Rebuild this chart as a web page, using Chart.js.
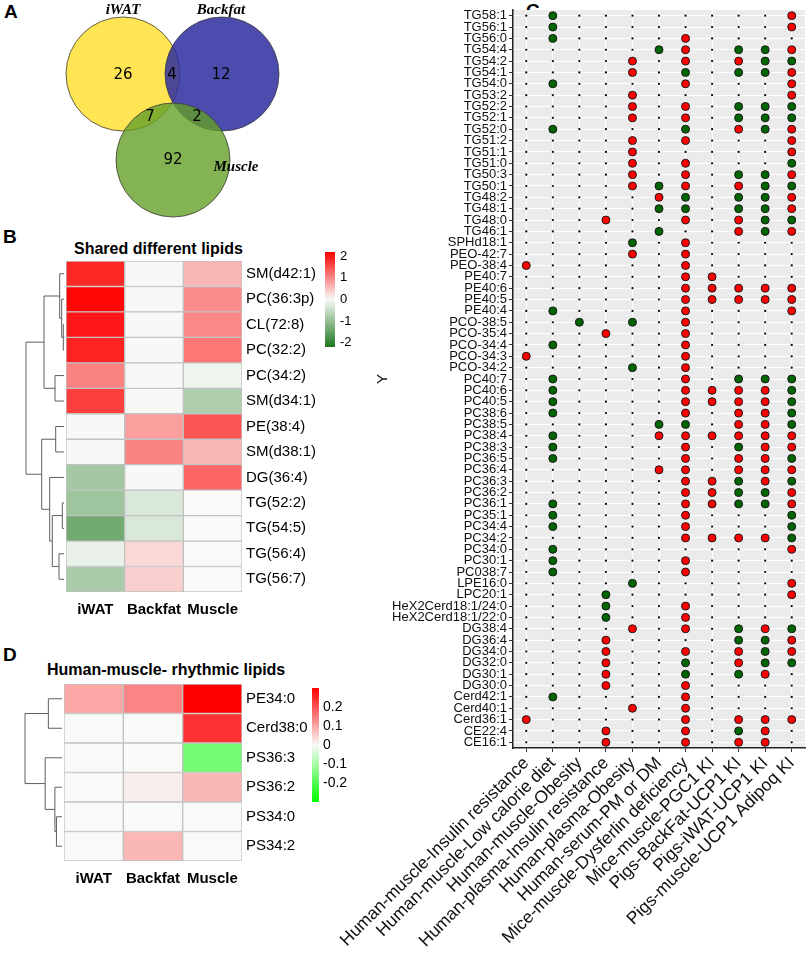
<!DOCTYPE html>
<html>
<head>
<meta charset="utf-8">
<script src="https://cdn.jsdelivr.net/npm/chart.js@4.4.1/dist/chart.umd.min.js"></script>
<style>
body { margin: 0; width: 809px; height: 953px; overflow: hidden; background: #fff; position: relative;
       font-family: "Liberation Sans", Arial, sans-serif; }
canvas { position: absolute; }
.lab { position: absolute; font-weight: bold; color: #000; white-space: nowrap; }
</style>
</head>
<body>
<div class="lab" style="left:4px;top:1px;font-size:19px">A</div>
<div class="lab" style="left:3px;top:226px;font-size:19px">B</div>
<div class="lab" style="left:526px;top:0px;font-size:19px">C</div>
<div class="lab" style="left:3px;top:644px;font-size:19px">D</div>
<div class="lab" style="left:74px;top:240px;font-size:16px">Shared different lipids</div>
<div class="lab" style="left:47px;top:661px;font-size:16px">Human-muscle- rhythmic lipids</div>

<canvas id="venn" width="300" height="235" style="left:0;top:0"></canvas>
<canvas id="heatB" width="360" height="390" style="left:0;top:240px"></canvas>
<canvas id="heatD" width="360" height="240" style="left:0;top:655px"></canvas>
<canvas id="dots" width="509" height="953" style="left:300px;top:0"></canvas>

<script>
Chart.defaults.font.family = '"Liberation Sans", Arial, sans-serif';

// ---------- A: Venn ----------
const vennSets = ['iWAT', 'Backfat', 'Muscle'];
const vennRegions = ['iWAT', 'iWAT&Backfat', 'Backfat', 'iWAT&Muscle', 'Backfat&Muscle', 'Muscle'];
const vennCounts = [26, 4, 12, 7, 2, 92];

// ---------- B: shared different lipids ----------
const heatCols = ['iWAT', 'Backfat', 'Muscle'];
const bRows = ['SM(d42:1)', 'PC(36:3p)', 'CL(72:8)', 'PC(32:2)', 'PC(34:2)', 'SM(d34:1)', 'PE(38:4)',
               'SM(d38:1)', 'DG(36:4)', 'TG(52:2)', 'TG(54:5)', 'TG(56:4)', 'TG(56:7)'];
const bIwat    = [1.85, 2.15, 2.0, 1.9, 1.05, 1.65, 0.02, 0.02, -0.85, -0.9, -1.35, -0.15, -0.8];
const bBackfat = [0.02, 0.02, 0.02, 0.02, 0.02, 0.02, 0.8, 1.05, 0.02, -0.3, -0.3, 0.3, 0.38];
const bMuscle  = [0.6, 0.95, 1.0, 1.15, -0.1, -0.75, 1.45, 0.6, 1.3, 0.0, 0.0, 0.0, 0.0];
const bMerge = [[-3, -4], [-2, 1], [-1, 2], [-5, -6], [3, 4], [-7, -8], [-10, -11], [-12, -13], [7, 8], [-9, 9], [6, 10], [5, 11]];
const bHeight = [0.7, 2.3, 4.3, 9, 20, 8.3, 1.7, 5, 11.7, 14.3, 22.3, 38];
const bTicks = [2, 1, 0, -1, -2];

// ---------- D: human-muscle rhythmic lipids ----------
const dRows = ['PE34:0', 'Cerd38:0', 'PS36:3', 'PS36:2', 'PS34:0', 'PS34:2'];
const dIwat    = [0.1, 0, 0, 0, 0, 0];
const dBackfat = [0.14, 0, 0, 0.015, 0, 0.08];
const dMuscle  = [0.3, 0.24, -0.16, 0.08, 0, 0];
const dMerge = [[-1, -2], [-5, -6], [-4, 2], [-3, 3], [1, 4]];
const dHeight = [14, 5.7, 7.3, 17.3, 38];
const dTicks = [0.2, 0.1, 0, -0.1, -0.2];

// ---------- C: lipid hits per study (R up, G down, . none) ----------
const cStudies = ['Human-muscle-Insulin resistance', 'Human-muscle-Low calorie diet', 'Human-muscle-Obesity',
  'Human-plasma-Insulin resistance', 'Human-plasma-Obesity', 'Human-serum-PM or DM',
  'Mice-muscle-Dysferlin deficiency', 'Mice-muscle-PGC1 KI', 'Pigs-BackFat-UCP1 KI',
  'Pigs-iWAT-UCP1 KI', 'Pigs-muscle-UCP1 Adipoq KI'];
const cLipids = ['TG58:1', 'TG56:1', 'TG56:0', 'TG54:4', 'TG54:2', 'TG54:1', 'TG54:0', 'TG53:2', 'TG52:2', 'TG52:1',
  'TG52:0', 'TG51:2', 'TG51:1', 'TG51:0', 'TG50:3', 'TG50:1', 'TG48:2', 'TG48:1', 'TG48:0', 'TG46:1',
  'SPHd18:1', 'PEO-42:7', 'PEO-38:4', 'PE40:7', 'PE40:6', 'PE40:5', 'PE40:4', 'PCO-38:5', 'PCO-35:4', 'PCO-34:4',
  'PCO-34:3', 'PCO-34:2', 'PC40:7', 'PC40:6', 'PC40:5', 'PC38:6', 'PC38:5', 'PC38:4', 'PC38:3', 'PC36:5',
  'PC36:4', 'PC36:3', 'PC36:2', 'PC36:1', 'PC35:1', 'PC34:4', 'PC34:2', 'PC34:0', 'PC30:1', 'PC038:7',
  'LPE16:0', 'LPC20:1', 'HeX2Cerd18:1/24:0', 'HeX2Cerd18:1/22:0', 'DG38:4', 'DG36:4', 'DG34:0', 'DG32:0', 'DG30:1', 'DG30:0',
  'Cerd42:1', 'Cerd40:1', 'Cerd36:1', 'CE22:4', 'CE16:1'];
const cCalls = [
  '.G........R', '.G........R', '.G....R....', '.....GR.GGR', '....R.R.RGG', '....R.G.GGR', '.G....R...R', '....R.....R',
  '....R.R.GGG', '....R.R.GGG', '.G....G.RGR', '....R.R...R', '....R.....R', '....R.R...G', '....R.R.GGR', '....RGR.RGG',
  '.....RG.GGR', '.....GG.GGR', '...R..R.RGG', '.....G..RGR', '....G.R....', '....R.R....', 'R.....R....', '......RR...',
  '......RRRRR', '......RRRRR', '.G....R...R', '..G.G.R....', '...R..R....', '.G....R....', 'R.....R....', '....G.R....',
  '.G....R.GGG', '.G....RRRRG', '.G....RRRRG', '.G....R.RRG', '.....GG.RRG', '.G...RRRRRR', '.G....R.GRR', '.G....R.RRG',
  '.....RR.RRR', '......RRGRG', '......RRGGR', '.G....RRGGR', '.G....R...G', '.G....R...G', '......RRRRG', '.G........R',
  '.G....R....', '.G....R....', '....G.....R', '...G......R', '...G..R....', '...G..R....', '....R.R.GRG', '...R....GGR',
  '...R..R.RGR', '...R..G.RGG', '...R..G.GR.', '...R..R....', '.G....R....', '....R.R....', 'R.....R.RRR', '...R..R.GR.',
  '...R..R.RR.'];

// ---------- helpers ----------
const mix = (a, b, t) => {
  t = Math.max(0, Math.min(1, t));
  return 'rgb(' + a.map((c, i) => Math.round(c + (b[i] - c) * t)).join(',') + ')';
};
const MID = [248, 250, 248];
const colorB = v => v >= 0 ? mix(MID, [255, 0, 0], v / 2.2) : mix(MID, [30, 120, 30], -v / 2.2);
const colorD = v => v >= 0 ? mix(MID, [255, 0, 0], v / 0.3) : mix(MID, [0, 255, 0], -v / 0.3);

function dendrogram(merges, heights, width) {
  return {
    id: 'dendro',
    afterDraw(chart) {
      const { ctx, chartArea } = chart;
      const ys = chart.scales.y;
      const x0 = chartArea.left - 2;
      const k = width / Math.max(...heights);
      const nodes = [];
      const get = id => id < 0 ? { y: ys.getPixelForValue(-id - 1), h: 0 } : nodes[id - 1];
      ctx.save();
      ctx.strokeStyle = '#5e5e5e';
      ctx.lineWidth = 1;
      merges.forEach(([a, b], i) => {
        const A = get(a), B = get(b), x = x0 - heights[i] * k;
        ctx.beginPath();
        ctx.moveTo(x0 - A.h * k, A.y);
        ctx.lineTo(x, A.y);
        ctx.lineTo(x, B.y);
        ctx.lineTo(x0 - B.h * k, B.y);
        ctx.stroke();
        nodes.push({ y: (A.y + B.y) / 2, h: heights[i] });
      });
      ctx.restore();
    }
  };
}

function colorbar(o) {
  return {
    id: 'colorbar',
    afterDraw(chart) {
      const ctx = chart.ctx;
      const g = ctx.createLinearGradient(0, o.top, 0, o.top + o.height);
      for (let k = 0; k <= 20; k++) {
        g.addColorStop(k / 20, o.color(o.max - (o.max - o.min) * k / 20));
      }
      ctx.save();
      ctx.fillStyle = g;
      ctx.fillRect(o.left, o.top, o.width, o.height);
      ctx.fillStyle = '#000';
      ctx.font = o.font;
      ctx.textBaseline = 'middle';
      ctx.textAlign = 'left';
      o.ticks.forEach(t => {
        const y = o.top + (o.max - t) / (o.max - o.min) * o.height;
        ctx.fillText(String(t), o.left + o.width + o.gap, y);
      });
      ctx.restore();
    }
  };
}

function heatmap(id, rows, cols, values, colorFn, pad, axisW, axisH, extra) {
  return new Chart(document.getElementById(id), {
    type: 'bar',
    data: {
      labels: rows,
      datasets: cols.map((c, j) => ({
        label: c,
        data: rows.map(() => [j, j + 1]),
        backgroundColor: values[j].map(colorFn),
        borderColor: '#c2c2c2',
        borderWidth: 1,
        borderSkipped: false,
        barPercentage: 1,
        categoryPercentage: 1,
        grouped: false
      }))
    },
    options: {
      indexAxis: 'y',
      responsive: false,
      animation: false,
      events: [],
      layout: { padding: pad, autoPadding: false },
      plugins: { legend: { display: false }, tooltip: { enabled: false } },
      scales: {
        x: { type: 'linear', min: 0, max: cols.length, display: false },
        xl: {
          type: 'category', labels: cols, position: 'bottom', offset: true,
          grid: { display: false, drawTicks: false }, border: { display: false },
          ticks: { color: '#000', font: { size: 15, weight: 'bold' }, padding: 9, autoSkip: false, maxRotation: 0 },
          afterFit: s => { s.height = axisH; }
        },
        y: {
          type: 'category', position: 'right',
          grid: { display: false, drawTicks: false }, border: { display: false },
          ticks: { color: '#000', font: { size: 15 }, padding: 4, autoSkip: false },
          afterFit: s => { s.width = axisW; }
        }
      }
    },
    plugins: extra
  });
}

// ---------- draw A ----------
const vennCircles = [{ x: 123, y: 74, r: 57 }, { x: 222, y: 74, r: 57 }, { x: 173, y: 160, r: 57 }];
const vennCountPos = [[123, 75], [172, 75], [221, 75], [150, 117], [197, 117], [173, 160]];
const vennNamePos = [[123, 10], [221, 10], [236, 167]];

const vennText = {
  id: 'vennText',
  afterDatasetsDraw(chart) {
    const { ctx, scales: { x, y } } = chart;
    ctx.save();
    ctx.textAlign = 'center';
    ctx.textBaseline = 'middle';
    ctx.fillStyle = '#000';
    ctx.font = '15px "DejaVu Sans", sans-serif';
    vennCounts.forEach((n, i) => {
      ctx.fillText(String(n), x.getPixelForValue(vennCountPos[i][0]), y.getPixelForValue(vennCountPos[i][1]));
    });
    ctx.font = 'italic bold 15px "Liberation Serif", "DejaVu Serif", serif';
    vennSets.forEach((s, i) => {
      ctx.fillText(s, x.getPixelForValue(vennNamePos[i][0]), y.getPixelForValue(vennNamePos[i][1]));
    });
    ctx.restore();
  }
};

new Chart(document.getElementById('venn'), {
  type: 'bubble',
  data: {
    datasets: [{
      data: vennCircles,
      backgroundColor: ['rgba(255,222,40,0.8)', 'rgba(45,45,160,0.85)', 'rgba(100,160,40,0.8)'],
      borderColor: '#3a3a3a',
      borderWidth: 0.8,
      clip: false
    }]
  },
  options: {
    responsive: false,
    animation: false,
    events: [],
    layout: { padding: 0, autoPadding: false },
    plugins: { legend: { display: false }, tooltip: { enabled: false } },
    scales: {
      x: { type: 'linear', min: 0, max: 300, display: false },
      y: { type: 'linear', min: 0, max: 235, reverse: true, display: false }
    }
  },
  plugins: [vennText]
});

// ---------- draw B and D ----------
heatmap('heatB', bRows, heatCols, [bIwat, bBackfat, bMuscle], colorB,
  { left: 66, top: 21, right: 0, bottom: 0 }, 118, 38,
  [dendrogram(bMerge, bHeight, 38),
   colorbar({ left: 325, top: 12, width: 10, height: 95, min: -2.2, max: 2.2, color: colorB,
              ticks: bTicks, font: '13px "Liberation Sans", Arial', gap: 5 })]);

heatmap('heatD', dRows, heatCols, [dIwat, dBackfat, dMuscle], colorD,
  { left: 64, top: 29, right: 0, bottom: 0 }, 118, 34,
  [dendrogram(dMerge, dHeight, 37),
   colorbar({ left: 312, top: 33, width: 7, height: 114, min: -0.3, max: 0.3, color: colorD,
              ticks: dTicks, font: '14px "Liberation Sans", Arial', gap: 4 })]);

// ---------- draw C ----------
const pts = { R: [], G: [], '.': [] };
cLipids.forEach((lip, i) => {
  [...cCalls[i]].forEach((s, j) => pts[s].push({ x: cStudies[j], y: lip }));
});

const panelBg = {
  id: 'panelBg',
  beforeDraw(chart) {
    const { ctx, chartArea: a } = chart;
    ctx.save();
    ctx.fillStyle = '#ebebeb';
    ctx.fillRect(a.left, a.top, a.right - a.left, a.bottom - a.top);
    ctx.restore();
  }
};

new Chart(document.getElementById('dots'), {
  type: 'scatter',
  data: {
    datasets: [
      { label: 'none', data: pts['.'], pointRadius: 1.1, backgroundColor: '#000', borderWidth: 0 },
      { label: 'down', data: pts.G, pointRadius: 4, backgroundColor: '#006400', borderColor: '#1a1a1a', borderWidth: 1 },
      { label: 'up', data: pts.R, pointRadius: 4, backgroundColor: '#ff0000', borderColor: '#1a1a1a', borderWidth: 1 }
    ]
  },
  options: {
    responsive: false,
    animation: false,
    events: [],
    layout: { padding: { top: 10, left: 0, right: 4, bottom: 0 }, autoPadding: false },
    plugins: { legend: { display: false }, tooltip: { enabled: false } },
    scales: {
      x: {
        type: 'category', labels: cStudies, offset: true, position: 'bottom',
        grid: { color: '#ffffff', lineWidth: 1, offset: false, tickColor: '#333', tickLength: 4 },
        border: { display: true, color: '#222', width: 1.5 },
        ticks: { color: '#111', font: { size: 17.5 }, minRotation: 45, maxRotation: 45, autoSkip: false, padding: 1 },
        afterFit: s => { s.height = 205; }
      },
      y: {
        type: 'category', labels: cLipids, offset: true, position: 'left',
        grid: { color: '#ffffff', lineWidth: 1, offset: false, tickColor: '#333', tickLength: 4 },
        border: { display: true, color: '#222', width: 1.5 },
        ticks: { color: '#111', font: { size: 13 }, autoSkip: false, padding: 2 },
        title: { display: true, text: 'Y', color: '#111', font: { size: 15 }, padding: { top: 74, bottom: 0 } },
        afterFit: s => { s.width = 213; }
      }
    }
  },
  plugins: [panelBg]
});
</script>
</body>
</html>
